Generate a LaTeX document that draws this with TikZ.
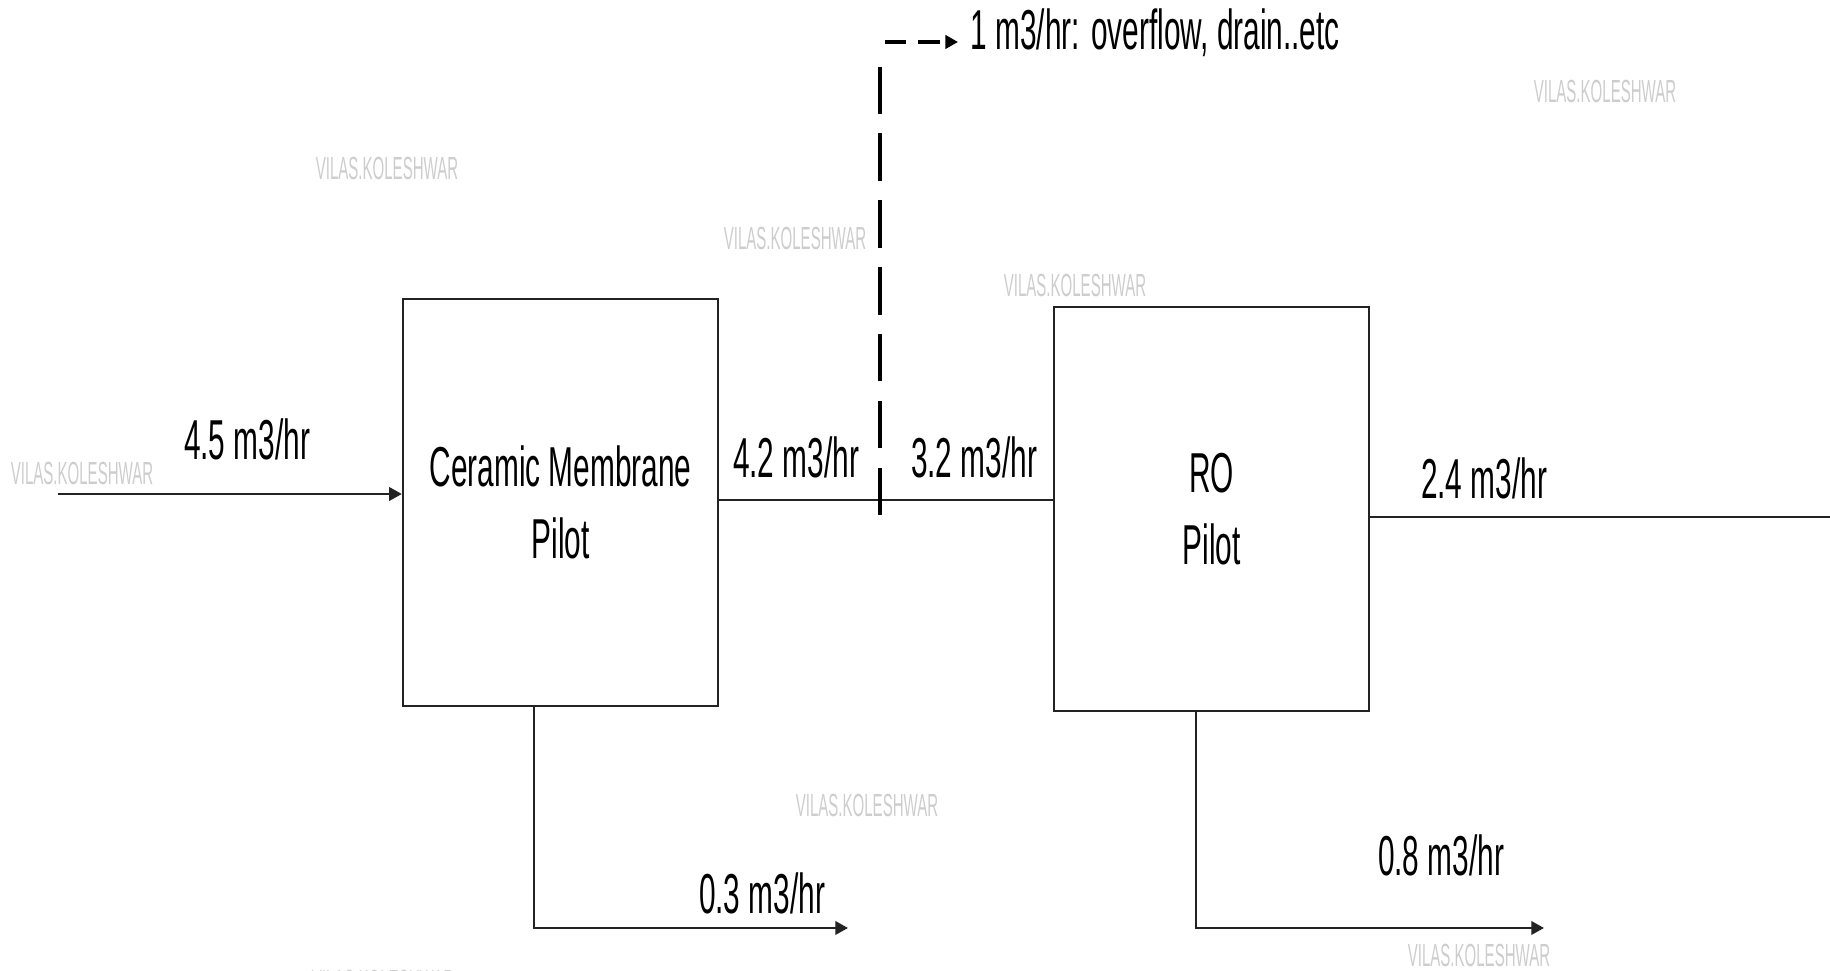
\documentclass[tikz,border=0pt]{standalone}
\usepackage{fontspec}
\setmainfont[FakeStretch=0.53]{Liberation Sans}
\newfontfamily\wmfont[FakeStretch=0.47]{Liberation Sans}
\definecolor{wmgrey}{RGB}{205,205,205}
\definecolor{linegrey}{RGB}{35,35,35}
\usetikzlibrary{arrows.meta,positioning,calc}

\begin{document}
\begin{tikzpicture}[
      x=0.01cm,y=-0.01cm,
      box/.style={draw=linegrey,line width=0.6pt,minimum width=3.15cm,
                  align=center,inner sep=0pt,
                  font=\fontsize{16}{20.5}\selectfont},
      flow/.style={font=\fontsize{16}{19}\selectfont,inner sep=0pt},
      wm/.style={font=\wmfont\fontsize{9.1}{10}\selectfont,text=wmgrey,inner sep=0pt},
      pipe/.style={draw=linegrey,line width=0.7pt},
      tip/.style={-{Triangle[length=3.6pt,width=3.8pt]}},
      drain/.style={line width=1.2pt,dash pattern=on 13.5pt off 5.5pt},
      drainshort/.style={line width=1.2pt,dash pattern=on 6pt off 3.5pt}]
    \useasboundingbox (0,0) rectangle (1830,971);
    \foreach \p [count=\i] in {(387,169),(795,238),(1075,285),(1605,91),
        (82,473),(867,805),(1479,955),(383,981)}
      \node[wm] (wm\i) at \p {VILAS.KOLESHWAR};
    \node[box,minimum height=4.07cm] (cm) at (560.5,502.5) {Ceramic Membrane\\Pilot};
    \node[box,minimum height=4.04cm] (ro) at (1211.5,509) {RO\\Pilot};
    \coordinate (feed) at (58,494);
    \coordinate (split) at (880,500);
    \coordinate (bend) at (880,42);
    \coordinate (prod) at (1830,517);
    \coordinate (cmout) at (534,928);
    \coordinate (rej1) at (848,928);
    \coordinate (roout) at (1196,928);
    \coordinate (rej2) at (1544,928);
    \node[flow,anchor=base west] (ovf) at (970,50) {1 m3/hr: overflow, drain..etc};
    \draw[pipe,tip] (feed) -- (feed -| cm.west);
    \draw[pipe] (cm.east |- split) -- (ro.west |- split);
    \draw[drain] ([yshift=-0.15cm]split) -- ([yshift=-0.12cm]bend);
    \draw[drainshort,tip,shorten >=0.12cm] ([xshift=0.05cm]bend) -- (ovf.west |- bend);
    \draw[pipe] (prod -| ro.east) -- (prod);
    \draw[pipe,tip] (cm.south -| cmout) -- (cmout) -- (rej1);
    \draw[pipe,tip] (ro.south -| roout) -- (roout) -- (rej2);
    \node[flow] (q1) at (247,439) {4.5 m3/hr};
    \node[flow] (q2) at (796,457) {4.2 m3/hr};
    \node[flow] (q3) at (974,457) {3.2 m3/hr};
    \node[flow] (q4) at (1484,478) {2.4 m3/hr};
    \node[flow] (q5) at (762,893) {0.3 m3/hr};
    \node[flow] (q6) at (1441,855) {0.8 m3/hr};
  \end{tikzpicture}
\end{document}
